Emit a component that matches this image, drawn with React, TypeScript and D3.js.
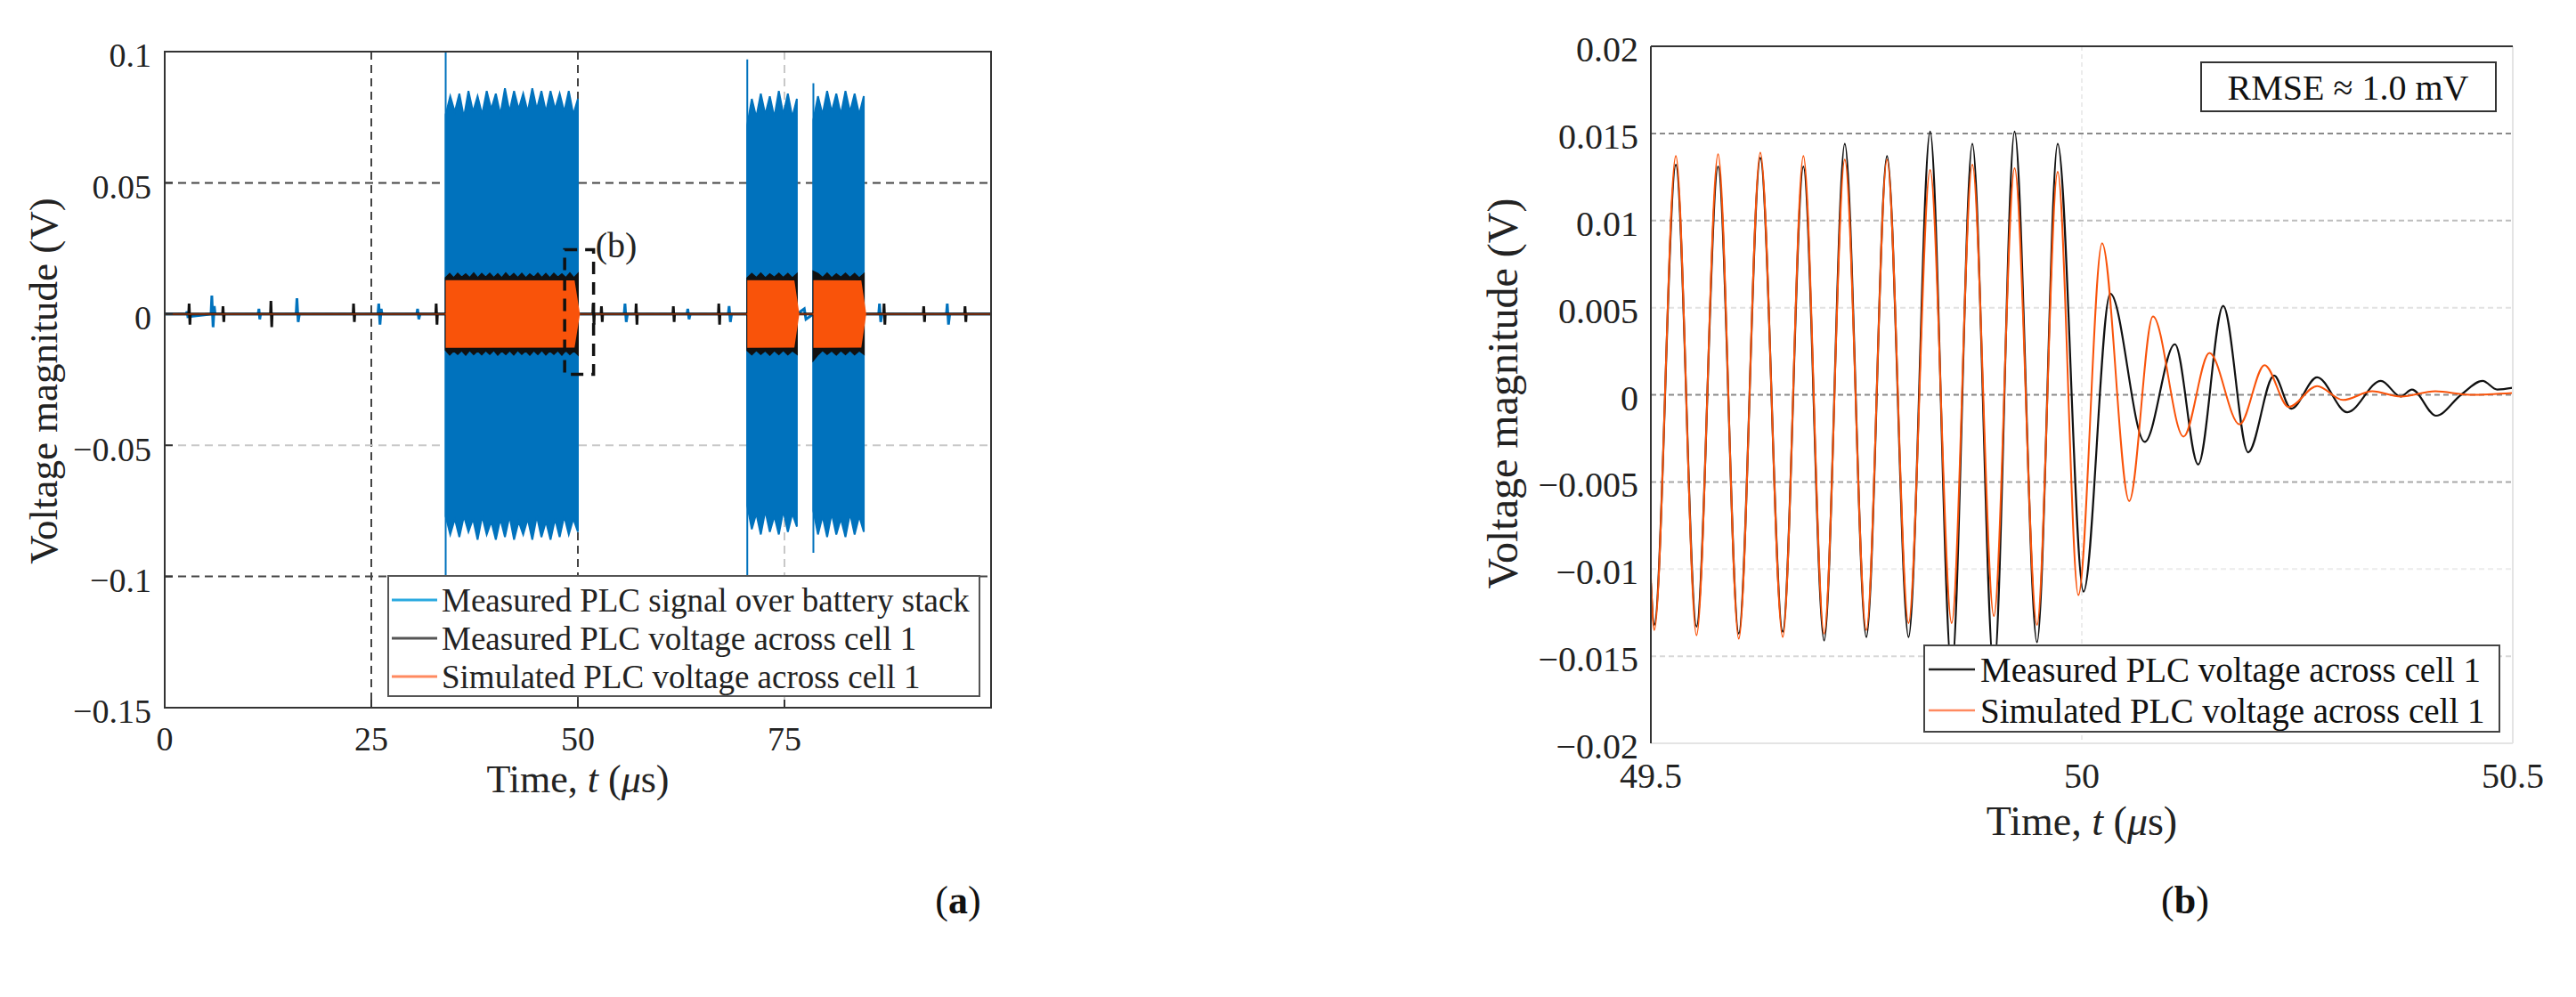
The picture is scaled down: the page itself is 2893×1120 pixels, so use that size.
import * as d3 from "d3";
import { useEffect } from "react";

const W = 2893;
const H = 1120;
const FONT = "'Liberation Serif', 'Times New Roman', serif";

// ---------- panel (a): overview ----------
const aXTicks = [0, 25, 50, 75];
const aYTicks = [0.1, 0.05, 0, -0.05, -0.1, -0.15];
const aYTickLabels = ["0.1", "0.05", "0", "\u22120.05", "\u22120.1", "\u22120.15"];

// PLC bursts on the stack (µs)
const burstStart = [34.0, 70.5, 78.5];
const burstEnd = [50.0, 76.5, 84.6];
const burstSpikeTop = [0.1, 0.097, 0.088];
const burstSpikeBottom = [-0.1, -0.1, -0.091];

// envelope peaks of the stack signal, read along each burst
const stackUpper = [
  [0.076, 0.083, 0.077, 0.084, 0.075, 0.085, 0.077, 0.083, 0.076, 0.085, 0.078, 0.084, 0.076, 0.086, 0.077,
    0.085, 0.078, 0.084, 0.077, 0.086, 0.078, 0.085, 0.077, 0.085, 0.078, 0.084, 0.077, 0.085, 0.076, 0.082],
  [0.072, 0.082, 0.075, 0.084, 0.076, 0.083, 0.075, 0.085, 0.076, 0.084, 0.075, 0.082],
  [0.074, 0.083, 0.076, 0.085, 0.077, 0.084, 0.076, 0.085, 0.077, 0.084, 0.076, 0.083],
];
const stackLower = [
  [-0.077, -0.084, -0.078, -0.085, -0.077, -0.083, -0.078, -0.086, -0.077, -0.084, -0.079, -0.086, -0.078, -0.085, -0.077,
    -0.086, -0.079, -0.084, -0.078, -0.086, -0.077, -0.085, -0.079, -0.086, -0.078, -0.085, -0.077, -0.084, -0.078, -0.083],
  [-0.073, -0.082, -0.076, -0.084, -0.075, -0.083, -0.077, -0.084, -0.075, -0.083, -0.076, -0.081],
  [-0.075, -0.084, -0.077, -0.085, -0.076, -0.084, -0.078, -0.085, -0.076, -0.084, -0.077, -0.083],
];

// measured cell voltage envelope inside bursts
const cellUpper = [
  [0.0138, 0.0153, 0.0137, 0.0154, 0.0139, 0.0152, 0.0138, 0.0155, 0.0137, 0.0153, 0.0139, 0.0154, 0.0138, 0.0152,
    0.0137, 0.0155, 0.0139, 0.0153, 0.0138, 0.0154, 0.0137, 0.0152, 0.0139, 0.0155, 0.0138, 0.0153, 0.0137, 0.0154,
    0.0139, 0.0152, 0.0138, 0.0155, 0.0137, 0.0153],
  [0.0137, 0.0153, 0.0138, 0.0155, 0.0137, 0.0152, 0.0139, 0.0154, 0.0138, 0.0153, 0.0137, 0.0152],
  [0.0162, 0.0153, 0.0138, 0.0155, 0.0137, 0.0152, 0.0139, 0.0154, 0.0138, 0.0153, 0.0137, 0.0152],
];
const cellLower = [
  [-0.0137, -0.0154, -0.0139, -0.0152, -0.0138, -0.0155, -0.0137, -0.0153, -0.0139, -0.0154, -0.0138, -0.0152,
    -0.0137, -0.0155, -0.0139, -0.0153, -0.0138, -0.0154, -0.0137, -0.0152, -0.0139, -0.0155, -0.0138, -0.0153,
    -0.0137, -0.0154, -0.0139, -0.0152, -0.0138, -0.0155, -0.0137, -0.0153, -0.0139, -0.0154],
  [-0.0138, -0.0154, -0.0137, -0.0152, -0.0139, -0.0155, -0.0138, -0.0153, -0.0137, -0.0154, -0.0139, -0.0152],
  [-0.0175, -0.0154, -0.0137, -0.0152, -0.0139, -0.0155, -0.0138, -0.0153, -0.0137, -0.0154, -0.0139, -0.0152],
];

// simulated cell voltage amplitude inside bursts (with tail)
const simBurstT = [[34.0, 49.6, 50.25], [70.5, 76.2, 76.8], [78.5, 84.3, 84.9]];
const simBurstA = [[0.0129, 0.0128, 0.0], [0.0129, 0.0128, 0.0], [0.0129, 0.0128, 0.0]];

// idle parts between bursts [t, V]
const stackIdle: [number, number][] = [
  [0, 0], [2.6, 0], [2.7, 0.001], [2.8, -0.001], [5.6, 0], [5.7, 0.007], [5.85, -0.005], [6.0, 0.003], [6.1, 0],
  [11.3, 0], [11.4, 0.002], [11.5, -0.002], [11.6, 0], [15.9, 0], [16.0, 0.006], [16.15, -0.003], [16.3, 0],
  [25.8, 0], [25.9, 0.004], [26.05, -0.004], [26.2, 0.002], [26.3, 0], [30.5, 0], [30.6, 0.002], [30.75, -0.002],
  [30.9, 0], [34.0, 0], [50.0, 0], [55.6, 0], [55.7, 0.004], [55.85, -0.003], [56.0, 0], [63.2, 0], [63.3, 0.002],
  [63.45, -0.002], [63.6, 0], [68.2, 0], [68.3, 0.003], [68.45, -0.003], [68.6, 0], [70.5, 0], [76.5, 0],
  [77.4, 0.002], [77.6, -0.002], [78.5, 0], [84.6, 0], [86.4, 0], [86.5, 0.004], [86.65, -0.003], [86.8, 0],
  [94.6, 0], [94.7, 0.004], [94.85, -0.004], [95.0, 0], [100, 0],
];
const cellIdle: [number, number][] = [
  [0, 0], [2.9, 0], [2.95, 0.004], [3.05, -0.004], [3.1, 0], [7.0, 0], [7.05, 0.003], [7.15, -0.003], [7.2, 0],
  [12.8, 0], [12.85, 0.005], [12.95, -0.005], [13.0, 0], [22.8, 0], [22.85, 0.004], [22.95, -0.003], [23.0, 0],
  [32.8, 0], [32.85, 0.004], [32.95, -0.004], [33.0, 0], [34.0, 0], [50.3, 0], [51.8, 0], [51.85, 0.004],
  [51.95, -0.004], [52.0, 0], [52.8, 0], [52.85, 0.003], [52.95, -0.003], [53.0, 0], [57.0, 0], [57.05, 0.004],
  [57.15, -0.004], [57.2, 0], [61.5, 0], [61.55, 0.003], [61.65, -0.003], [61.7, 0], [67.0, 0], [67.05, 0.004],
  [67.15, -0.004], [67.2, 0], [70.5, 0], [76.8, 0], [78.5, 0], [84.9, 0], [87.0, 0], [87.05, 0.004],
  [87.15, -0.004], [87.2, 0], [91.8, 0], [91.85, 0.003], [91.95, -0.003], [92.0, 0], [96.8, 0], [96.85, 0.003],
  [96.95, -0.003], [97.0, 0], [100, 0],
];

// zoom window marked "(b)"
const zoomT = [48.4, 51.9];
const zoomV = [-0.023, 0.0245];

const aLegend = [
  "Measured PLC signal over battery stack",
  "Measured PLC voltage across cell 1",
  "Simulated PLC voltage across cell 1",
];

// ---------- panel (b): zoom at 50 µs ----------
const bXTicks = [49.5, 50, 50.5];
const bXTickLabels = ["49.5", "50", "50.5"];
const bYTicks = [0.02, 0.015, 0.01, 0.005, 0, -0.005, -0.01, -0.015, -0.02];
const bYTickLabels = ["0.02", "0.015", "0.01", "0.005", "0", "\u22120.005", "\u22120.01", "\u22120.015", "\u22120.02"];

// extrema of the measured waveform (µs, V)
const measT = [
  49.5, 49.504, 49.529, 49.553, 49.578, 49.602, 49.627, 49.653, 49.677, 49.701, 49.725, 49.75, 49.774, 49.799,
  49.824, 49.849, 49.873, 49.898, 49.922, 49.948, 49.972, 50.002, 50.033, 50.073, 50.108, 50.135, 50.164, 50.193,
  50.223, 50.243, 50.273, 50.308, 50.347, 50.37, 50.383, 50.411, 50.44, 50.465, 50.482, 50.5,
];
const measV = [
  -0.0108, -0.0132, 0.0132, -0.0133, 0.0131, -0.0137, 0.0136, -0.0136, 0.0131, -0.0141, 0.0144, -0.0139, 0.0137,
  -0.0139, 0.0151, -0.0158, 0.0144, -0.0158, 0.0151, -0.0142, 0.0144, -0.0113, 0.0058, -0.0027, 0.0029, -0.004,
  0.0051, -0.0033, 0.0011, -0.0008, 0.001, -0.001, 0.0008, -0.0001, 0.0003, -0.0012, 0.0, 0.0008, 0.0003, 0.0004,
];

// extrema of the simulated waveform (µs, V)
const simT = [
  49.5, 49.504, 49.529, 49.553, 49.578, 49.602, 49.627, 49.653, 49.677, 49.701, 49.725, 49.75, 49.774, 49.799,
  49.824, 49.849, 49.873, 49.898, 49.922, 49.948, 49.972, 49.996, 50.0235, 50.055, 50.0825, 50.118, 50.148,
  50.183, 50.212, 50.24, 50.273, 50.303, 50.337, 50.37, 50.41, 50.45, 50.5,
];
const simV = [
  -0.0105, -0.0135, 0.0137, -0.0138, 0.0138, -0.014, 0.0139, -0.0139, 0.0137, -0.0137, 0.0135, -0.0135, 0.0135,
  -0.0131, 0.0129, -0.0131, 0.0132, -0.0127, 0.013, -0.0132, 0.0128, -0.0115, 0.0087, -0.0061, 0.0045, -0.0024,
  0.0024, -0.0017, 0.0017, -0.0007, 0.0005, -0.0003, 0.0002, -0.0001, 0.0002, 0.0, 0.0001,
];

const bLegend = ["Measured PLC voltage across cell 1", "Simulated PLC voltage across cell 1"];

// ---------- styles ----------
const BLUE = "#0072BD";
const ORANGE = "#F9530A";
const aGridX: Record<number, string> = { 25: "#444", 50: "#444", 75: "#c8c8c8" };
const aGridY: Record<number, string> = { 0.05: "#444", 0: "#444", [-0.05]: "#c8c8c8", [-0.1]: "#444" };
const bGridY: Record<number, string> = {
  0.015: "#8a8a8a", 0.01: "#bdbdbd", 0.005: "#e2e2e2", 0: "#8a8a8a",
  [-0.005]: "#a8a8a8", [-0.01]: "#ececec", [-0.015]: "#d8d8d8",
};

type Pt = { t: number; hi: number; lo: number };

const App = () => {
  useEffect(() => {
    document.body.style.margin = "0";
  }, []);

  // panel (a) scales
  const xA = d3.scaleLinear().domain([0, 100]).range([185, 1113]);
  const yA = d3.scaleLinear().domain([-0.15, 0.1]).range([795, 58]);
  // panel (b) scales
  const xB = d3.scaleLinear().domain([49.5, 50.5]).range([1854, 2822]);
  const yB = d3.scaleLinear().domain([-0.02, 0.02]).range([835, 52]);

  const areaA = d3.area<Pt>().x(d => xA(d.t)).y0(d => yA(d.lo)).y1(d => yA(d.hi));
  const lineA = d3.line<[number, number]>().x(d => xA(d[0])).y(d => yA(d[1]));

  const envelope = (i: number, up: number[][], lo: number[][]): Pt[] => {
    const n = up[i].length;
    const span = burstEnd[i] - burstStart[i];
    return up[i].map((v, k) => ({ t: burstStart[i] + (span * k) / (n - 1), hi: v, lo: lo[i][k] }));
  };

  const lineB = d3.line<number>().curve(d3.curveMonotoneX);
  const measPath = lineB(measT.map((t, i) => [xB(t), yB(measV[i])]) as any);
  const simPath = lineB(simT.map((t, i) => [xB(t), yB(simV[i])]) as any);

  const timeLabel = (
    <>
      Time, <tspan fontStyle="italic">t</tspan> (<tspan fontStyle="italic">{"\u03bc"}</tspan>s)
    </>
  );

  return (
    <svg width={W} height={H} style={{ display: "block", background: "#fff" }} fontFamily={FONT}>
      <defs>
        <clipPath id="clipA">
          <rect x={185} y={58} width={928} height={737} />
        </clipPath>
        <clipPath id="clipB">
          <rect x={1854} y={52} width={968} height={783} />
        </clipPath>
      </defs>

      {/* ================= panel (a) ================= */}
      <g>
        {aXTicks.filter(t => t > 0).map(t => (
          <line key={"gx" + t} x1={xA(t)} x2={xA(t)} y1={yA(0.1)} y2={yA(-0.15)}
            stroke={aGridX[t]} strokeWidth={2} strokeDasharray="9,6" />
        ))}
        {aYTicks.filter(v => v < 0.1 && v > -0.15).map(v => (
          <line key={"gy" + v} x1={xA(0)} x2={xA(100)} y1={yA(v)} y2={yA(v)}
            stroke={aGridY[v]} strokeWidth={2} strokeDasharray="9,6" />
        ))}

        <g clipPath="url(#clipA)">
          <path d={lineA(stackIdle) || ""} fill="none" stroke={BLUE} strokeWidth={3} />
          {burstStart.map((s, i) => (
            <g key={"stack" + i}>
              <path d={areaA(envelope(i, stackUpper, stackLower)) || ""} fill={BLUE} stroke={BLUE} strokeWidth={2} />
              <line x1={xA(s)} x2={xA(s)} y1={yA(burstSpikeTop[i])} y2={yA(burstSpikeBottom[i])}
                stroke={BLUE} strokeWidth={2} />
            </g>
          ))}
          <path d={lineA(cellIdle) || ""} fill="none" stroke="#111" strokeWidth={3} />
          {burstStart.map((_, i) => (
            <path key={"cell" + i} d={areaA(envelope(i, cellUpper, cellLower)) || ""}
              fill="#111" stroke="#111" strokeWidth={2} />
          ))}
          <line x1={xA(0)} x2={xA(100)} y1={yA(0)} y2={yA(0)} stroke={ORANGE} strokeWidth={1.2} opacity={0.7} />
          {simBurstT.map((ts, i) => (
            <path key={"sim" + i}
              d={areaA(ts.map((t, k) => ({ t, hi: simBurstA[i][k], lo: -simBurstA[i][k] }))) || ""}
              fill={ORANGE} />
          ))}
        </g>

        {/* zoom window */}
        <rect x={xA(zoomT[0])} y={yA(zoomV[1])} width={xA(zoomT[1]) - xA(zoomT[0])}
          height={yA(zoomV[0]) - yA(zoomV[1])} fill="none" stroke="#111" strokeWidth={3.5} strokeDasharray="14,9" />
        <text x={xA(zoomT[1]) + 2} y={yA(zoomV[1]) + 8} fontSize={40} fill="#222">(b)</text>

        {/* axes box */}
        <rect x={185} y={58} width={928} height={737} fill="none" stroke="#333" strokeWidth={2} />
        {aXTicks.map(t => (
          <line key={"tx" + t} x1={xA(t)} x2={xA(t)} y1={795} y2={786} stroke="#333" strokeWidth={2} />
        ))}
        {aYTicks.map(v => (
          <line key={"ty" + v} x1={185} x2={194} y1={yA(v)} y2={yA(v)} stroke="#333" strokeWidth={2} />
        ))}

        {/* legend */}
        <rect x={436} y={647} width={664} height={135} fill="#fff" stroke="#555" strokeWidth={2} />
        {aLegend.map((label, i) => (
          <g key={label} transform={`translate(0, ${674 + i * 43})`}>
            <line x1={440} x2={491} y1={0} y2={0} stroke={["#2aa9e0", "#555", "#ff8a60"][i]} strokeWidth={3} />
            <text x={496} y={0} dy="0.35em" fontSize={37} fill="#222">{label}</text>
          </g>
        ))}

        {/* tick labels */}
        {aXTicks.map(t => (
          <text key={"lx" + t} x={xA(t)} y={830} dy="0.35em" textAnchor="middle" fontSize={38} fill="#222">{t}</text>
        ))}
        {aYTicks.map((v, i) => (
          <text key={"ly" + v} x={170} y={yA(v) + 4} dy="0.35em" textAnchor="end" fontSize={38} fill="#222">
            {aYTickLabels[i]}
          </text>
        ))}
        <text x={xA(50)} y={875} dy="0.35em" textAnchor="middle" fontSize={44} fill="#222">
          {timeLabel}
        </text>
        <text transform={`translate(48, 428) rotate(-90)`} dy="0.35em" textAnchor="middle" fontSize={45} fill="#222">
          Voltage magnitude (V)
        </text>
        <text x={1076} y={1011} dy="0.35em" textAnchor="middle" fontSize={44} fill="#111">
          (<tspan fontWeight="bold">a</tspan>)
        </text>
      </g>

      {/* ================= panel (b) ================= */}
      <g>
        <line x1={xB(50)} x2={xB(50)} y1={52} y2={835} stroke="#e6e6e6" strokeWidth={1.5} strokeDasharray="5,4" />
        {bYTicks.filter(v => v < 0.02 && v > -0.02).map(v => (
          <line key={"bgy" + v} x1={1854} x2={2822} y1={yB(v)} y2={yB(v)}
            stroke={bGridY[v]} strokeWidth={2} strokeDasharray="6,4" />
        ))}
        <g clipPath="url(#clipB)">
          <path d={measPath || ""} fill="none" stroke="#111" strokeWidth={2.2} />
          <path d={simPath || ""} fill="none" stroke={ORANGE} strokeWidth={2} />
        </g>

        {/* axes: dark left/top, light right/bottom */}
        <line x1={1854} x2={2822} y1={835} y2={835} stroke="#e4e4e4" strokeWidth={2} />
        <line x1={2822} x2={2822} y1={52} y2={835} stroke="#e4e4e4" strokeWidth={2} />
        <line x1={1854} x2={2822} y1={52} y2={52} stroke="#333" strokeWidth={2} />
        <line x1={1854} x2={1854} y1={52} y2={835} stroke="#333" strokeWidth={2} />

        {/* RMSE box */}
        <rect x={2472} y={70} width={331} height={55} fill="#fff" stroke="#333" strokeWidth={2} />
        <text x={2637} y={98} dy="0.35em" textAnchor="middle" fontSize={40} fill="#111">
          RMSE {"\u2248"} 1.0 mV
        </text>

        {/* legend */}
        <rect x={2161} y={725} width={646} height={97} fill="#fff" stroke="#444" strokeWidth={2} />
        {bLegend.map((label, i) => (
          <g key={label} transform={`translate(0, ${752 + i * 46})`}>
            <line x1={2166} x2={2218} y1={0} y2={0} stroke={["#222", "#ff8a60"][i]} strokeWidth={2.5} />
            <text x={2224} y={0} dy="0.35em" fontSize={39} fill="#111">{label}</text>
          </g>
        ))}

        {bXTicks.map((t, i) => (
          <text key={"blx" + t} x={xB(t)} y={871} dy="0.35em" textAnchor="middle" fontSize={40} fill="#222">
            {bXTickLabels[i]}
          </text>
        ))}
        {bYTicks.map((v, i) => (
          <text key={"bly" + v} x={1840} y={yB(v) + 3} dy="0.35em" textAnchor="end" fontSize={40} fill="#222">
            {bYTickLabels[i]}
          </text>
        ))}
        <text x={xB(50)} y={922} dy="0.35em" textAnchor="middle" fontSize={46} fill="#222">
          {timeLabel}
        </text>
        <text transform={`translate(1687, 442) rotate(-90)`} dy="0.35em" textAnchor="middle" fontSize={48} fill="#222">
          Voltage magnitude (V)
        </text>
        <text x={2454} y={1011} dy="0.35em" textAnchor="middle" fontSize={44} fill="#111">
          (<tspan fontWeight="bold">b</tspan>)
        </text>
      </g>
    </svg>
  );
};

export default App;
